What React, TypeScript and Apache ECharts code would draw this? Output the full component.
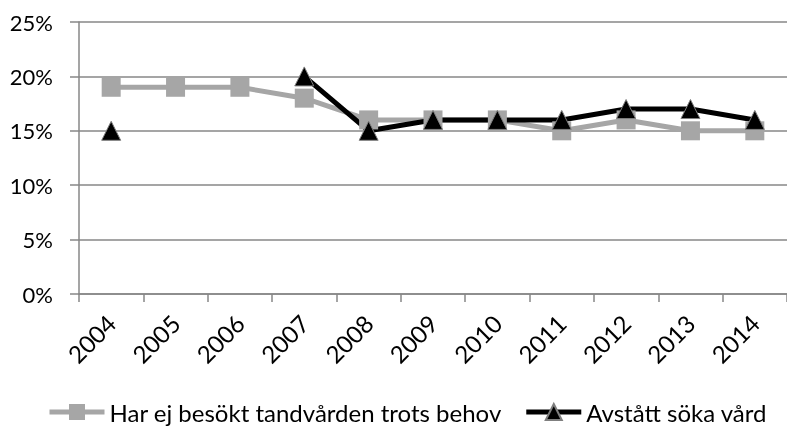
import React, { useEffect, useRef } from "react";
import * as echarts from "echarts";

const years = ["2004", "2005", "2006", "2007", "2008", "2009", "2010", "2011", "2012", "2013", "2014"];
const harEjBesokt = [19, 19, 19, 18, 16, 16, 16, 15, 16, 15, 15];
const avstattSoka: (number | null)[] = [15, null, null, 20, 15, 16, 16, 16, 17, 17, 16];
const yTicks = { min: 0, max: 25, interval: 5 };

const FONT = "Lato";
const AXIS = "#878787";

export default function App() {
  const ref = useRef<HTMLDivElement>(null);
  useEffect(() => {
    if (!ref.current) return;
    const chart = echarts.init(ref.current, null, { renderer: "svg" });
    chart.setOption({
      animation: false,
      grid: { left: 79, top: 22, width: 714, height: 272, containLabel: false },
      legend: {
        top: 398,
        left: 47,
        width: 900,
        padding: 0,
        itemWidth: 55,
        itemHeight: 20,
        itemGap: 22,
        lineStyle: { width: 5 },
        textStyle: { fontFamily: FONT, fontSize: 24, lineHeight: 28, color: "#000" },
        data: ["Har ej besökt tandvården trots behov", "Avstått söka vård"],
      },
      xAxis: {
        type: "category",
        data: years,
        boundaryGap: true,
        axisLine: { show: true, lineStyle: { color: AXIS, width: 1.5 } },
        axisTick: { show: true, alignWithLabel: false, length: 8, lineStyle: { color: AXIS, width: 1.5 } },
        axisLabel: { rotate: 45, interval: 0, margin: 25, fontFamily: FONT, fontSize: 24, color: "#000" },
        splitLine: { show: false },
      },
      yAxis: {
        type: "value",
        min: yTicks.min,
        max: yTicks.max,
        interval: yTicks.interval,
        axisLine: { show: true, lineStyle: { color: AXIS, width: 1.5 } },
        axisTick: { show: true, length: 9, lineStyle: { color: AXIS, width: 1.5 } },
        axisLabel: { formatter: (v: number) => `${v}%`, margin: 26, fontFamily: FONT, fontSize: 22, color: "#000" },
        splitLine: { show: true, lineStyle: { color: AXIS, width: 1.5 } },
      },
      series: [
        {
          name: "Har ej besökt tandvården trots behov",
          type: "line",
          data: harEjBesokt,
          symbol: "rect",
          symbolSize: 19,
          lineStyle: { color: "#a6a6a6", width: 5 },
          itemStyle: { color: "#a6a6a6" },
        },
        {
          name: "Avstått söka vård",
          type: "line",
          data: avstattSoka,
          connectNulls: false,
          symbol: "triangle",
          symbolSize: 19,
          lineStyle: { color: "#000", width: 5 },
          itemStyle: { color: "#000", borderColor: "#7f7f7f", borderWidth: 1 },
        },
      ],
    });
    return () => chart.dispose();
  }, []);
  return <div ref={ref} style={{ position: "fixed", left: 0, top: 0, width: 787, height: 426 }} />;
}
